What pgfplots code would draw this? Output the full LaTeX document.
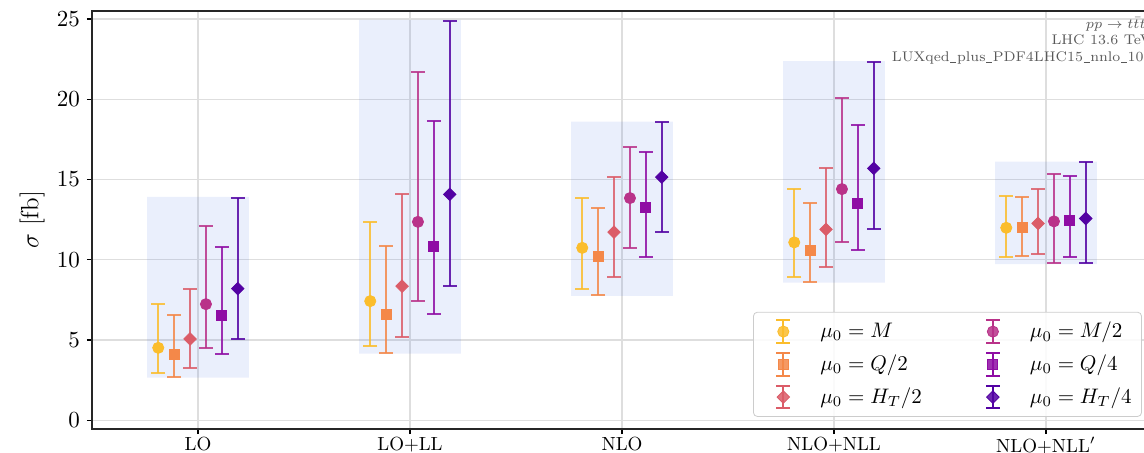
\RequirePackage{fix-cm}
\documentclass[border=0pt]{standalone}
\usepackage{pgfplots}
\pgfplotsset{compat=1.18}
\usepackage{pgfplotstable}

\definecolor{cM}{HTML}{FBBD2C}
\definecolor{cQ}{HTML}{F48849}
\definecolor{cH}{HTML}{DB5C68}
\definecolor{cMh}{HTML}{B93289}
\definecolor{cQh}{HTML}{8F0DA4}
\definecolor{cHh}{HTML}{5302A3}
\definecolor{boxc}{HTML}{4169E1}

\newcommand{\us}{\kern0.05em\rule[-0.12em]{0.42em}{0.06em}\kern0.05em}
\newcommand{\legpad}{\rule{21.5pt}{0pt}}

% columns: category index, central value, lower, upper
\pgfplotstableread{
x y lo hi
0 4.51 2.93 7.23
1 7.42 4.63 12.36
2 10.74 8.17 13.84
3 11.08 8.94 14.40
4 11.99 10.18 13.97
}\tM
\pgfplotstableread{
x y lo hi
0 7.23 4.51 12.11
1 12.36 7.42 21.70
2 13.84 10.74 17.02
3 14.40 11.08 20.10
4 12.39 9.81 15.36
}\tMh
\pgfplotstableread{
x y lo hi
0 4.13 2.70 6.55
1 6.61 4.20 10.85
2 10.18 7.79 13.24
3 10.58 8.62 13.51
4 12.01 10.22 13.90
}\tQ
\pgfplotstableread{
x y lo hi
0 6.55 4.13 10.79
1 10.85 6.61 18.64
2 13.24 10.18 16.71
3 13.51 10.58 18.41
4 12.45 10.16 15.23
}\tQh
\pgfplotstableread{
x y lo hi
0 5.06 3.26 8.20
1 8.35 5.19 14.07
2 11.72 8.94 15.15
3 11.89 9.52 15.69
4 12.26 10.35 14.38
}\tH
\pgfplotstableread{
x y lo hi
0 8.20 5.06 13.86
1 14.07 8.35 24.90
2 15.15 11.72 18.56
3 15.69 11.90 22.32
4 12.57 9.77 16.07
}\tHh

\pgfplotsset{
  ser/.style={only marks, color=#1,
    error bars/.cd, y dir=both, y explicit,
    error bar style={line width=1pt, opacity=0.85},
    error mark options={rotate=90, line width=1pt, mark size=3.5pt, opacity=0.85},
    /pgfplots/.cd},
}

\begin{document}
\begin{tikzpicture}
\begin{axis}[
  name=ax,
  scale only axis,
  width=530pt, height=209pt,
  xmin=-0.5, xmax=4.5,
  ymin=-0.55, ymax=25.5,
  xtick={0,1,2,3,4},
  xticklabels={LO, LO+LL, NLO, NLO+NLL, NLO+NLL$'$},
  ytick={0,5,10,15,20,25},
  tick align=outside,
  tick pos=left,
  major tick length=2.5pt,
  tick style={black, line width=0.6pt},
  grid=major,
  major grid style={black!13, line width=0.6pt},
  axis line style={black!85, line width=0.7pt},
  x tick label style={font=\fontsize{9.5}{11}\selectfont, yshift=2pt},
  y tick label style={font=\fontsize{11.5}{13}\selectfont},
  ylabel={$\sigma$ [fb]},
  ylabel style={font=\fontsize{12.5}{14}\selectfont, at={(axis description cs:-0.0566,0.5)}, anchor=center},
  legend columns=2,
  legend cell align=left,
  legend style={at={(axis description cs:0.6236,0.029)}, anchor=south west,
    draw=black!20, rounded corners=2pt, fill=white, fill opacity=0.85, text opacity=1,
    font=\fontsize{10.5}{12.5}\selectfont, row sep=3pt, inner ysep=3pt},
  legend image code/.code={
    \draw[draw=none] (0cm,0cm) -- (1.0cm,0cm);
    \draw[#1, mark=none, line width=1pt] (0.42cm,-0.2cm) -- (0.42cm,0.2cm);
    \draw[#1, mark=none, line width=1pt] (0.30cm,-0.2cm) -- (0.54cm,-0.2cm);
    \draw[#1, mark=none, line width=1pt] (0.30cm,0.2cm) -- (0.54cm,0.2cm);
    \draw[#1] plot coordinates {(0.42cm,0cm)};
  },
]
% shaded bands around each group
\addplot[draw=none, fill=boxc, fill opacity=0.11, forget plot] coordinates {(-0.24,2.65) (0.24,2.65) (0.24,13.91) (-0.24,13.91) (-0.24,2.65)};
\addplot[draw=none, fill=boxc, fill opacity=0.11, forget plot] coordinates {(0.76,4.15) (1.24,4.15) (1.24,24.95) (0.76,24.95) (0.76,4.15)};
\addplot[draw=none, fill=boxc, fill opacity=0.11, forget plot] coordinates {(1.76,7.74) (2.24,7.74) (2.24,18.61) (1.76,18.61) (1.76,7.74)};
\addplot[draw=none, fill=boxc, fill opacity=0.11, forget plot] coordinates {(2.76,8.57) (3.24,8.57) (3.24,22.37) (2.76,22.37) (2.76,8.57)};
\addplot[draw=none, fill=boxc, fill opacity=0.11, forget plot] coordinates {(3.76,9.72) (4.24,9.72) (4.24,16.12) (3.76,16.12) (3.76,9.72)};

\addplot[ser=cM, mark=*, mark size=2.8pt, mark options={fill=cM, draw=cM}] table[x expr=\thisrow{x}-0.1875, y=y, y error plus expr=\thisrow{hi}-\thisrow{y}, y error minus expr=\thisrow{y}-\thisrow{lo}] {\tM};
\addlegendentry{$\mu_0 = M$\legpad}
\addplot[ser=cMh, mark=*, mark size=2.8pt, mark options={fill=cMh, draw=cMh}] table[x expr=\thisrow{x}+0.0375, y=y, y error plus expr=\thisrow{hi}-\thisrow{y}, y error minus expr=\thisrow{y}-\thisrow{lo}] {\tMh};
\addlegendentry{$\mu_0 = M/2$}
\addplot[ser=cQ, mark=square*, mark size=2.5pt, mark options={fill=cQ, draw=cQ}] table[x expr=\thisrow{x}-0.1125, y=y, y error plus expr=\thisrow{hi}-\thisrow{y}, y error minus expr=\thisrow{y}-\thisrow{lo}] {\tQ};
\addlegendentry{$\mu_0 = Q/2$\legpad}
\addplot[ser=cQh, mark=square*, mark size=2.5pt, mark options={fill=cQh, draw=cQh}] table[x expr=\thisrow{x}+0.1125, y=y, y error plus expr=\thisrow{hi}-\thisrow{y}, y error minus expr=\thisrow{y}-\thisrow{lo}] {\tQh};
\addlegendentry{$\mu_0 = Q/4$}
\addplot[ser=cH, mark=square*, mark size=2.2pt, mark options={fill=cH, draw=cH, rotate=45}] table[x expr=\thisrow{x}-0.0375, y=y, y error plus expr=\thisrow{hi}-\thisrow{y}, y error minus expr=\thisrow{y}-\thisrow{lo}] {\tH};
\addlegendentry{$\mu_0 = H_T/2$\legpad}
\addplot[ser=cHh, mark=square*, mark size=2.2pt, mark options={fill=cHh, draw=cHh, rotate=45}] table[x expr=\thisrow{x}+0.1875, y=y, y error plus expr=\thisrow{hi}-\thisrow{y}, y error minus expr=\thisrow{y}-\thisrow{lo}] {\tHh};
\addlegendentry{$\mu_0 = H_T/4$}

\node[anchor=north east, align=right, inner sep=0pt, text=black!65, font=\fontsize{7}{8.3}\selectfont] at (rel axis cs:1,0.985) {$pp\to t\bar t t\bar t$\\LHC 13.6 TeV\\LUXqed\us plus\us PDF4LHC15\us nnlo\us 100};
\end{axis}
\pgfresetboundingbox
\path[use as bounding box] ([xshift=-46pt,yshift=-11.5pt]ax.south west) rectangle ([xshift=526pt,yshift=214.5pt]ax.south west);
\end{tikzpicture}
\end{document}
